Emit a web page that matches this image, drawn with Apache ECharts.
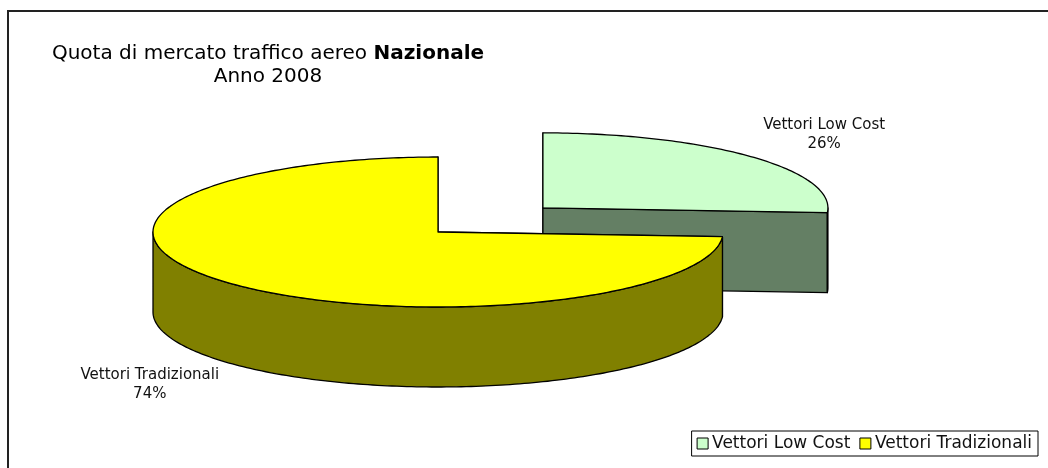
<!DOCTYPE html>
<html>
<head>
<meta charset="utf-8">
<title>Quota di mercato traffico aereo Nazionale - Anno 2008</title>
<script src="https://cdn.jsdelivr.net/npm/echarts@6/dist/echarts.min.js"></script>
<style>
  html, body { margin: 0; padding: 0; background: #fff; }
  #chart { width: 1048px; height: 468px; }
</style>
</head>
<body>
<div id="chart"></div>
<script>
  // dati
  var categories = ['Vettori Low Cost', 'Vettori Tradizionali'];
  var values = [26, 74];
  var topColors = ['#CCFFCC', '#FFFF00'];
  var sideColors = ['#647F64', '#808000'];

  // torta 3d finta: ellisse + spessore
  var cx = 438, cy = 232, rx = 285, ry = 75, depth = 80;
  var explodeX = [0.505, 0], explodeY = [0.47, 0];
  var total = values.reduce(function (a, b) { return a + b; }, 0);

  function pt(ox, oy, a, dy) {
    return [ox + rx * Math.sin(a), oy - ry * Math.cos(a) + (dy || 0)];
  }

  function arc(ox, oy, a0, a1, dy) {
    var pts = [];
    var n = Math.max(2, Math.ceil((a1 - a0) / (Math.PI / 180)));
    for (var i = 0; i <= n; i++) {
      pts.push(pt(ox, oy, a0 + (a1 - a0) * i / n, dy));
    }
    return pts;
  }

  function sliceRender(idx) {
    return function (params, api) {
      var start = 0;
      for (var i = 0; i < idx; i++) start += values[i];
      var a0 = start / total * Math.PI * 2;
      var a1 = (start + values[idx]) / total * Math.PI * 2;
      var mid = (a0 + a1) / 2;
      var ox = cx + explodeX[idx] * rx * Math.sin(mid);
      var oy = cy - explodeY[idx] * ry * Math.cos(mid);
      var line = { stroke: '#000', lineWidth: 1.3, lineJoin: 'round' };
      var children = [];

      // pareti del taglio
      [a0, a1].forEach(function (a) {
        var p = pt(ox, oy, a);
        children.push({
          type: 'polygon',
          shape: { points: [[ox, oy], p, [p[0], p[1] + depth], [ox, oy + depth]] },
          style: Object.assign({ fill: sideColors[idx] }, line)
        });
      });

      // lato esterno (solo metà davanti)
      var s0 = Math.max(a0, Math.PI / 2), s1 = Math.min(a1, Math.PI * 1.5);
      if (s1 > s0) {
        var up = arc(ox, oy, s0, s1, 0);
        var down = arc(ox, oy, s0, s1, depth).reverse();
        children.push({
          type: 'polygon',
          shape: { points: up.concat(down) },
          style: Object.assign({ fill: sideColors[idx] }, line)
        });
      }

      // faccia sopra
      children.push({
        type: 'polygon',
        shape: { points: [[ox, oy]].concat(arc(ox, oy, a0, a1, 0)) },
        style: Object.assign({ fill: topColors[idx] }, line)
      });

      // etichetta
      var dx = Math.sin(mid), dyv = -Math.cos(mid);
      var lx = ox + rx * dx * 1.06;
      var ly = oy + ry * dyv * 1.06 + (dyv > 0 ? depth : 0);
      children.push({
        type: 'text',
        style: {
          x: lx, y: ly,
          text: categories[idx] + '\n' + Math.round(values[idx] / total * 100) + '%',
          align: 'center',
          verticalAlign: dyv > 0 ? 'top' : 'bottom',
          fill: '#111',
          font: '15px "DejaVu Sans"',
          lineHeight: 19
        },
        x: dx > 0 ? 61 : -68,
        y: dyv > 0 ? -1 : 0
      });

      return { type: 'group', children: children };
    };
  }

  var chart = echarts.init(document.getElementById('chart'));
  var option = {
    animation: false,
    backgroundColor: '#fff',
    textStyle: { fontFamily: 'DejaVu Sans' },
    graphic: [
      {
        type: 'rect',
        shape: { x: 8, y: 11, width: 1200, height: 600 },
        style: { fill: 'none', stroke: '#222', lineWidth: 2 },
        z: 0
      },
      {
        type: 'text',
        x: 268, y: 42,
        style: {
          text: '{n|Quota di mercato traffico aereo }{b|Nazionale}\n{n|Anno 2008}',
          align: 'center',
          verticalAlign: 'top',
          rich: {
            n: { fontSize: 20, fontFamily: 'DejaVu Sans', color: '#111', lineHeight: 23 },
            b: { fontSize: 20, fontFamily: 'DejaVu Sans', fontWeight: 'bold', color: '#000', lineHeight: 23 }
          }
        }
      }
    ],
    legend: {
      right: 10,
      bottom: 12,
      orient: 'horizontal',
      icon: 'rect',
      itemWidth: 11,
      itemHeight: 11,
      itemGap: 9,
      padding: [4, 6, 4, 5],
      backgroundColor: '#fff',
      borderColor: '#000',
      borderWidth: 1,
      borderRadius: 0,
      itemStyle: { borderColor: '#000', borderWidth: 1 },
      textStyle: { fontSize: 17, color: '#111', fontFamily: 'DejaVu Sans', padding: [0, 0, 0, -1] },
      data: categories
    },
    series: categories.map(function (name, i) {
      return {
        name: name,
        type: 'custom',
        coordinateSystem: 'none',
        z: 2 + i,
        itemStyle: { color: topColors[i] },
        renderItem: sliceRender(i),
        data: [values[i]]
      };
    })
  };
  chart.setOption(option);
</script>
</body>
</html>
